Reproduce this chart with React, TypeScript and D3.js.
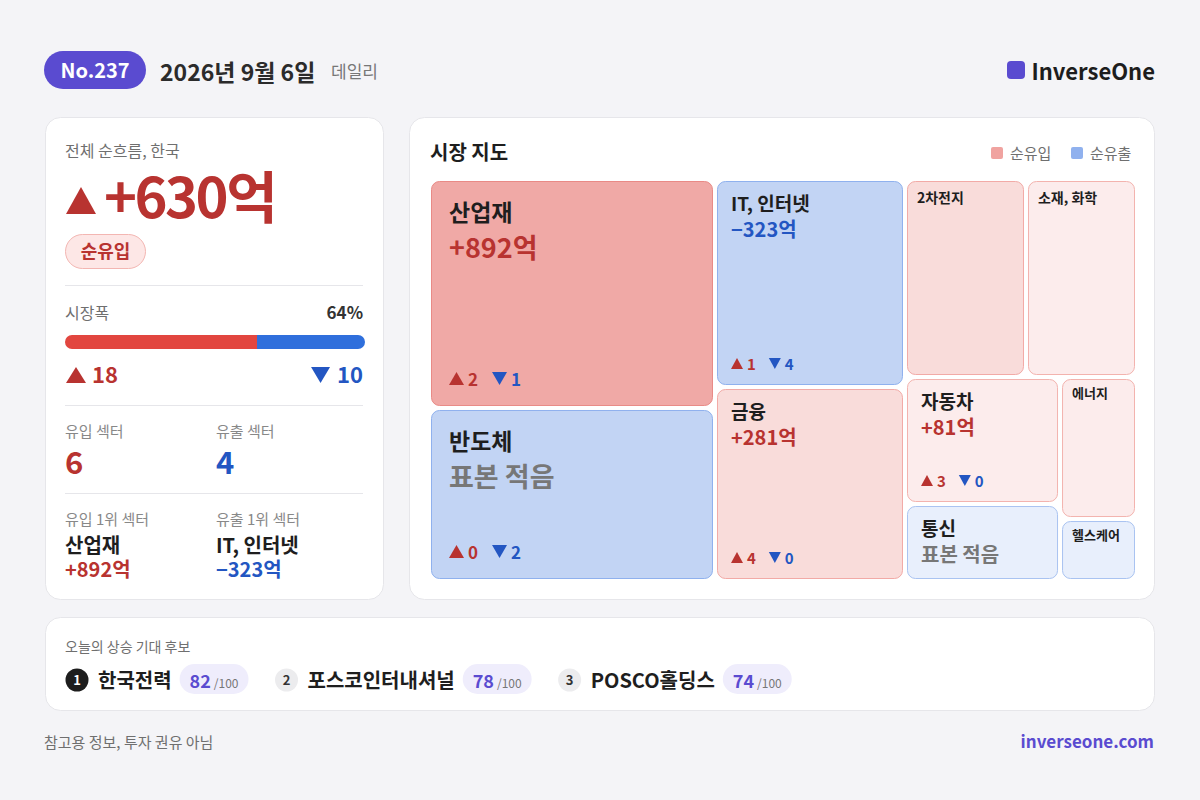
import React from "react";
import * as d3 from "d3";

const FONT = "'Noto Sans CJK KR', 'Noto Sans', sans-serif";

// ---------- data ----------
const issueNo = "No.237";
const dateLabel = "2026년 9월 6일";
const editionLabel = "데일리";
const brandName = "InverseOne";
const siteUrl = "inverseone.com";
const disclaimer = "참고용 정보, 투자 권유 아님";

const netFlowLabel = "전체 순흐름, 한국";
const netFlow = 630;
const netFlowTag = "순유입";
const breadthPct = 64;
const advancers = 18;
const decliners = 10;
const inflowSectorCount = 6;
const outflowSectorCount = 4;

const sectorNames = ["산업재", "반도체", "IT, 인터넷", "금융", "2차전지", "소재, 화학", "자동차", "통신", "에너지", "헬스케어"];
const sectorWeights = [65.49, 49.48, 39.52, 36.86, 23.96, 21.98, 19.69, 11.94, 10.93, 4.77];
const sectorFlows: (number | null)[] = [892, null, -323, 281, null, null, 81, null, null, null];
const sectorLowSample = [false, true, false, false, false, false, false, true, false, false];
const sectorUp: (number | null)[] = [2, 0, 1, 4, null, null, 3, null, null, null];
const sectorDown: (number | null)[] = [1, 2, 4, 0, null, null, 0, null, null, null];
const sectorTone = ["in3", "out2", "out2", "in2", "in2", "in1", "in1", "out1", "in1", "out1"];

const pickTitle = "오늘의 상승 기대 후보";
const pickNames = ["한국전력", "포스코인터내셔널", "POSCO홀딩스"];
const pickScores = [82, 78, 74];

// ---------- styles ----------
const C = {
  bg: "#f4f4f7",
  card: "#ffffff",
  cardStroke: "#e6e6ea",
  purple: "#5a4bd0",
  red: "#b83330",
  blue: "#2356c2",
  ink: "#1e1e1e",
  gray: "#6f6f6f",
  lightGray: "#888888",
  divider: "#e6e6ea",
  barRed: "#e2463f",
  barBlue: "#2f6fdc",
};

const TONES: Record<string, { fill: string; stroke: string }> = {
  in3: { fill: "#f0a9a6", stroke: "#e98a86" },
  in2: { fill: "#f9dcda", stroke: "#f2aaa6" },
  in1: { fill: "#fcecec", stroke: "#f3b3ae" },
  out2: { fill: "#c2d4f4", stroke: "#8fb1ee" },
  out1: { fill: "#e8effc", stroke: "#a9c3f1" },
};

let _ctx: CanvasRenderingContext2D | null = null;
function textW(text: string, size: number, weight = 400, ls = 0) {
  if (!_ctx && typeof document !== "undefined") _ctx = document.createElement("canvas").getContext("2d");
  if (!_ctx) return text.length * size * 0.6;
  _ctx.font = `${weight} ${size}px ${FONT}`;
  return _ctx.measureText(text).width + ls * text.length;
}

const fmtFlow = (v: number) => `${v > 0 ? "+" : "\u2212"}${Math.abs(v)}억`;

function TriUp({ x, y, w, h, fill }: any) {
  return <path d={`M${x},${y + h}L${x + w / 2},${y}L${x + w},${y + h}Z`} fill={fill} />;
}
function TriDown({ x, y, w, h, fill }: any) {
  return <path d={`M${x},${y}L${x + w},${y}L${x + w / 2},${y + h}Z`} fill={fill} />;
}

function Counts({ x, y, up, down, size }: any) {
  const tw = size === "L" ? 15 : 12;
  const th = size === "L" ? 13 : 11;
  const fs = size === "L" ? 17 : 15;
  const upText = String(up);
  const downText = String(down);
  const n1 = x + tw + 4;
  const x2 = n1 + textW(upText, fs, 700) + (size === "L" ? 14 : 13);
  const n2 = x2 + tw + 4;
  return (
    <g>
      <TriUp x={x} y={y - th - 1} w={tw} h={th} fill={C.red} />
      <text x={n1} y={y} fontSize={fs} fontWeight={700} fill={C.red}>{upText}</text>
      <TriDown x={x2} y={y - th - 1} w={tw} h={th} fill={C.blue} />
      <text x={n2} y={y} fontSize={fs} fontWeight={700} fill={C.blue}>{downText}</text>
    </g>
  );
}

export default function App() {
  // ---------- treemap ----------
  const TX = 431, TY = 181, TW = 704, TH = 398;
  const root = d3
    .hierarchy<any>({ children: sectorNames.map((_, i) => ({ i })) })
    .sum((d: any) => (d.children ? 0 : sectorWeights[d.i]))
    .sort((a: any, b: any) => (b.value || 0) - (a.value || 0));
  d3.treemap<any>().tile(d3.treemapSquarify.ratio(1)).size([TW, TH]).paddingInner(4)(root);
  const leaves = root.leaves() as any[];

  // breadth bar
  const bx = d3.scaleLinear().domain([0, 100]).range([65, 365]);

  // top sectors
  const flowIdx = sectorFlows.map((v, i) => ({ v, i })).filter((d) => d.v != null) as { v: number; i: number }[];
  const topIn = flowIdx.reduce((a, b) => (b.v > a.v ? b : a));
  const topOut = flowIdx.reduce((a, b) => (b.v < a.v ? b : a));

  // picks layout
  const picks: any[] = [];
  let cx = 77;
  pickNames.forEach((name, i) => {
    const nameX = cx + 21;
    const nw = textW(name, 20, 700);
    const pillX = nameX + nw + 8;
    const sw = textW(String(pickScores[i]), 18, 700);
    const pw = 10 + sw + 3 + textW("/100", 12, 400) + 10;
    picks.push({ cx, nameX, pillX, pw, sw, name, score: pickScores[i], rank: i + 1 });
    cx = pillX + pw + 38;
  });

  const bigText = `+${netFlow}억`;

  return (
    <svg
      width={1200}
      height={800}
      style={{ position: "fixed", left: 0, top: 0, display: "block" }}
      fontFamily={FONT}
    >
      <rect x={0} y={0} width={1200} height={800} fill={C.bg} />

      {/* header */}
      <rect x={44} y={51} width={102} height={38} rx={19} fill={C.purple} />
      <text x={95} y={78} textAnchor="middle" fontSize={20} fontWeight={700} fill="#fff">{issueNo}</text>
      <text x={160} y={81} fontSize={23} fontWeight={700} fill="#2b2b2b">{dateLabel}</text>
      <text x={331} y={78} fontSize={17} fill="#777">{editionLabel}</text>
      <rect x={1007} y={61} width={18} height={18} rx={4} fill={C.purple} />
      <text x={1155} y={80} textAnchor="end" fontSize={22} fontWeight={700} fill="#1d1d1d">{brandName}</text>

      {/* left card */}
      <rect x={45.5} y={117.5} width={338} height={482} rx={15} fill={C.card} stroke={C.cardStroke} />
      <text x={65} y={157} fontSize={16} fill={C.gray}>{netFlowLabel}</text>
      <TriUp x={66} y={187} w={30} h={27} fill={C.red} />
      <text x={104} y={218} fontSize={56} fontWeight={700} fill={C.red} letterSpacing={-2.5}>{bigText}</text>
      <rect x={65.5} y={234.5} width={80} height={34} rx={17} fill="#fde7e6" stroke="#f3b6b2" />
      <text x={105.5} y={258} textAnchor="middle" fontSize={18} fontWeight={700} fill={C.red}>{netFlowTag}</text>
      <line x1={65} x2={363} y1={285.5} y2={285.5} stroke={C.divider} />

      <text x={65} y={319} fontSize={16} fill={C.gray}>시장폭</text>
      <text x={363} y={319} textAnchor="end" fontSize={17} fontWeight={700} fill="#333">{breadthPct}%</text>
      <defs>
        <clipPath id="barclip">
          <rect x={bx(0)} y={335} width={bx(100) - bx(0)} height={14} rx={7} />
        </clipPath>
      </defs>
      <g clipPath="url(#barclip)">
        <rect x={bx(0)} y={335} width={bx(breadthPct) - bx(0)} height={14} fill={C.barRed} />
        <rect x={bx(breadthPct)} y={335} width={bx(100) - bx(breadthPct)} height={14} fill={C.barBlue} />
      </g>
      <TriUp x={66} y={367} w={20} h={16} fill={C.red} />
      <text x={92} y={383} fontSize={22} fontWeight={700} fill={C.red}>{advancers}</text>
      {(() => {
        const w = textW(String(decliners), 22, 700);
        return (
          <g>
            <TriDown x={363 - w - 7 - 19} y={367} w={19} h={16} fill={C.blue} />
            <text x={363} y={383} textAnchor="end" fontSize={22} fontWeight={700} fill={C.blue}>{decliners}</text>
          </g>
        );
      })()}
      <line x1={65} x2={363} y1={405.5} y2={405.5} stroke={C.divider} />

      <text x={65} y={437} fontSize={15} fill={C.lightGray}>유입 섹터</text>
      <text x={216} y={437} fontSize={15} fill={C.lightGray}>유출 섹터</text>
      <text x={65} y={474} fontSize={31} fontWeight={700} fill={C.red}>{inflowSectorCount}</text>
      <text x={216} y={474} fontSize={31} fontWeight={700} fill={C.blue}>{outflowSectorCount}</text>
      <line x1={65} x2={363} y1={493.5} y2={493.5} stroke={C.divider} />

      <text x={65} y={525} fontSize={15} fill={C.lightGray}>유입 1위 섹터</text>
      <text x={216} y={525} fontSize={15} fill={C.lightGray}>유출 1위 섹터</text>
      <text x={65} y={553} fontSize={20} fontWeight={700} fill={C.ink}>{sectorNames[topIn.i]}</text>
      <text x={216} y={553} fontSize={20} fontWeight={700} fill={C.ink}>{sectorNames[topOut.i]}</text>
      <text x={65} y={577} fontSize={20} fontWeight={700} fill={C.red}>{fmtFlow(topIn.v)}</text>
      <text x={216} y={577} fontSize={20} fontWeight={700} fill={C.blue}>{fmtFlow(topOut.v)}</text>

      {/* right card */}
      <rect x={409.5} y={117.5} width={745} height={482} rx={15} fill={C.card} stroke={C.cardStroke} />
      <text x={430} y={160} fontSize={20} fontWeight={700} fill={C.ink}>시장 지도</text>
      <rect x={991} y={147} width={12} height={12} rx={2} fill="#f0a3a0" />
      <text x={1010} y={159} fontSize={15} fill={C.gray}>순유입</text>
      <rect x={1071} y={147} width={12} height={12} rx={2} fill="#90b1ee" />
      <text x={1090} y={159} fontSize={15} fill={C.gray}>순유출</text>

      {leaves.map((lf) => {
        const i = lf.data.i;
        const x = TX + lf.x0, y = TY + lf.y0;
        const w = lf.x1 - lf.x0, h = lf.y1 - lf.y0;
        const tone = TONES[sectorTone[i]];
        const tier = w >= 250 ? "L" : w >= 140 ? "M" : w >= 100 ? "S" : "XS";
        const pad = tier === "L" ? 18 : tier === "M" ? 14 : 10;
        const nameSize = tier === "L" ? 23 : tier === "M" ? 19 : tier === "S" ? 14 : 13;
        const nameY = tier === "L" ? 40 : tier === "M" ? 30 : tier === "S" ? 22 : 19;
        const valSize = tier === "L" ? 27 : 20;
        const valY = tier === "L" ? 77 : 56;
        const flow = sectorFlows[i];
        const showVal = tier === "L" || tier === "M";
        const showCounts = showVal && h >= 100 && sectorUp[i] != null;
        return (
          <g key={i}>
            <rect x={x + 0.5} y={y + 0.5} width={w - 1} height={h - 1} rx={8} fill={tone.fill} stroke={tone.stroke} />
            <text x={x + pad} y={y + nameY} fontSize={nameSize} fontWeight={700} fill={C.ink}>{sectorNames[i]}</text>
            {showVal && (sectorLowSample[i] ? (
              <text x={x + pad} y={y + valY} fontSize={valSize} fontWeight={700} fill="#777">표본 적음</text>
            ) : flow != null ? (
              <text x={x + pad} y={y + valY} fontSize={valSize} fontWeight={700} fill={flow > 0 ? C.red : C.blue}>{fmtFlow(flow)}</text>
            ) : null)}
            {showCounts && (
              <Counts x={x + pad} y={y + h - (tier === "L" ? 20 : 15)} up={sectorUp[i]} down={sectorDown[i]} size={tier} />
            )}
          </g>
        );
      })}

      {/* picks card */}
      <rect x={45.5} y={617.5} width={1109} height={93} rx={15} fill={C.card} stroke={C.cardStroke} />
      <text x={65} y={652} fontSize={14} fill={C.gray}>{pickTitle}</text>
      {picks.map((p) => (
        <g key={p.rank}>
          <circle cx={p.cx} cy={680} r={11.5} fill={p.rank === 1 ? "#1d1d1d" : "#ececee"} />
          <text x={p.cx} y={685} textAnchor="middle" fontSize={13} fontWeight={700} fill={p.rank === 1 ? "#fff" : "#333"}>{p.rank}</text>
          <text x={p.nameX} y={688} fontSize={20} fontWeight={700} fill={C.ink}>{p.name}</text>
          <rect x={p.pillX} y={664} width={p.pw} height={30} rx={15} fill="#efedfc" />
          <text x={p.pillX + 10} y={688} fontSize={18} fontWeight={700} fill={C.purple}>{p.score}</text>
          <text x={p.pillX + 10 + p.sw + 3} y={688} fontSize={12} fill="#777">/100</text>
        </g>
      ))}

      {/* footer */}
      <text x={44} y={748} fontSize={15} fill={C.gray}>{disclaimer}</text>
      <text x={1154} y={748} textAnchor="end" fontSize={17} fontWeight={700} fill={C.purple}>{siteUrl}</text>
    </svg>
  );
}
